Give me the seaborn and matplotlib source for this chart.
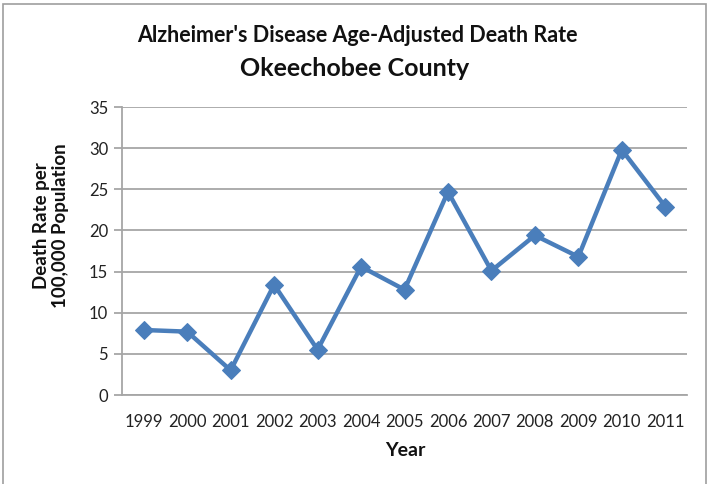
import matplotlib
matplotlib.use("Agg")
import matplotlib.pyplot as plt
import seaborn as sns
import pandas as pd
from matplotlib.patches import Rectangle

years = ["1999", "2000", "2001", "2002", "2003", "2004", "2005",
         "2006", "2007", "2008", "2009", "2010", "2011"]
rates = [7.9, 7.7, 3.0, 13.4, 5.5, 15.6, 12.8, 24.7, 15.1, 19.4, 16.8, 29.8, 22.9]
y_ticks = [0, 5, 10, 15, 20, 25, 30, 35]

title_main = "Alzheimer's Disease Age-Adjusted Death Rate"
title_sub = "Okeechobee County"
x_label = "Year"
y_label = "Death Rate per\n100,000 Population"

sns.set_theme(style="white")
plt.rcParams["font.family"] = ["Lato", "DejaVu Sans"]

df = pd.DataFrame({"Year": years, "Rate": rates})

fig = plt.figure(figsize=(7.08, 4.84), dpi=100)
ax_left, ax_bottom = 122 / 708, 1 - 395 / 484
ax_w, ax_h = 565 / 708, 288 / 484
ax = fig.add_axes([ax_left, ax_bottom, ax_w, ax_h])

blue = "#4A7EBB"
grid_gray = "#A6A6A6"

sns.lineplot(data=df, x="Year", y="Rate", ax=ax, color=blue, linewidth=3.2,
             marker="D", markersize=9, markeredgecolor=blue, sort=False)

ax.set_xlim(-0.5, len(years) - 0.5)
ax.set_ylim(0, 35)
ax.set_yticks(y_ticks)
ax.set_yticklabels([str(v) for v in y_ticks])
ax.yaxis.grid(True, color=grid_gray, linewidth=1.3)
ax.xaxis.grid(False)
ax.set_axisbelow(True)

for side in ["top", "right"]:
    ax.spines[side].set_visible(False)
for side in ["left", "bottom"]:
    ax.spines[side].set_color(grid_gray)
    ax.spines[side].set_linewidth(1.3)

ax.tick_params(axis="y", which="major", direction="out", length=6, width=1.3,
               color=grid_gray, labelsize=12, labelcolor="#222222", pad=4, left=True)
ax.tick_params(axis="x", which="major", length=0, labelsize=12,
               labelcolor="#222222", pad=14)

ax.set_xlabel(x_label, fontsize=14, fontweight="bold", color="#111111")
ax.xaxis.set_label_coords((405 / 708 - ax_left) / ax_w, (1 - 450 / 484 - ax_bottom) / ax_h)
ax.set_ylabel(y_label, fontsize=13.5, fontweight="bold", color="#111111",
              linespacing=1.15)
ax.yaxis.set_label_coords((51 / 708 - ax_left) / ax_w, (1 - 226 / 484 - ax_bottom) / ax_h)
ax.yaxis.label.set_va("center")
ax.xaxis.label.set_va("center")

fig.text(357 / 708, 1 - 35 / 484, title_main, ha="center", va="center",
         fontsize=15.5, fontweight="bold", color="#111111")
fig.text(355 / 708, 1 - 68 / 484, title_sub, ha="center", va="center",
         fontsize=18, fontweight="bold", color="#111111")

# chart frame
fig.patches.append(Rectangle((3 / 708, -0.01), 703 / 708, 1 - 4 / 484 + 0.01,
                             transform=fig.transFigure, fill=False,
                             edgecolor="#9E9E9E", linewidth=1.2))

fig.savefig("out.png", dpi=100)
